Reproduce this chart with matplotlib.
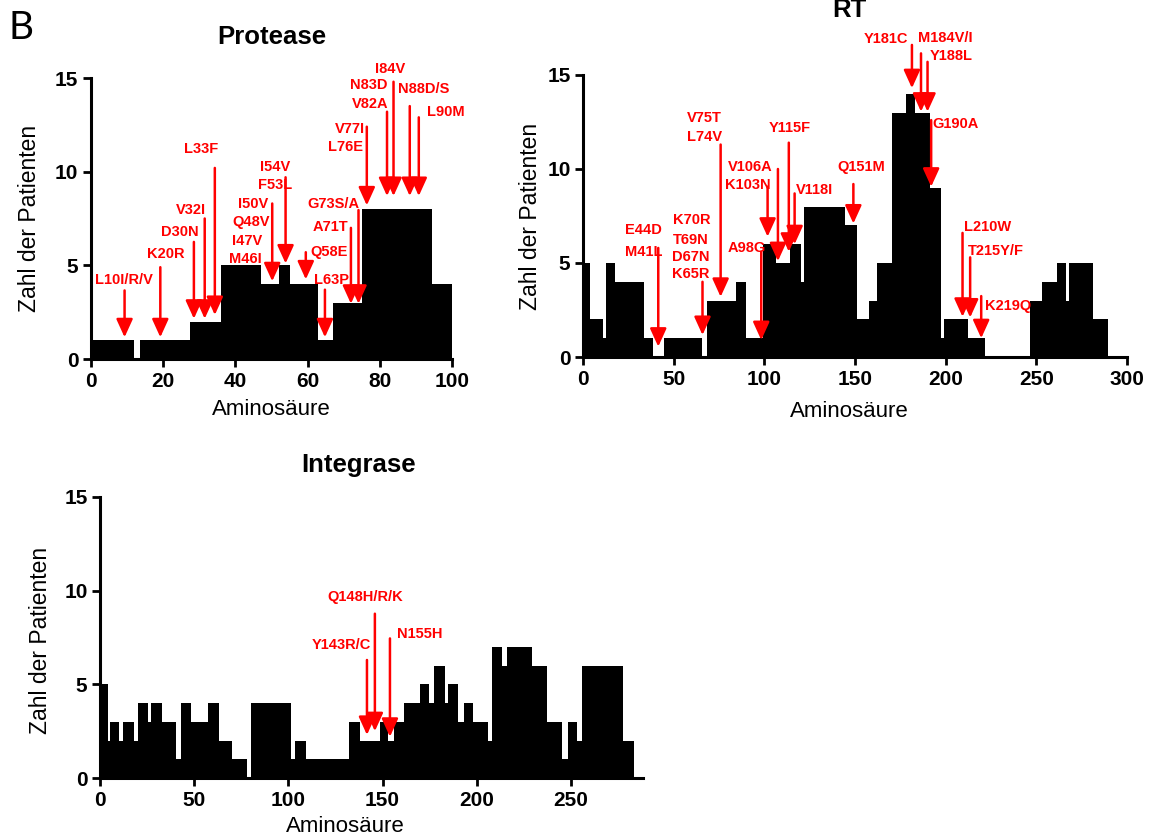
import matplotlib
matplotlib.use("Agg")
import matplotlib.pyplot as plt

plt.rcParams['font.family'] = ['Liberation Sans', 'DejaVu Sans']

# ---- data: step profiles (bin edges along the sequence, patient counts per bin)
pr_edges = [0, 12, 13.5, 27.5, 36, 47, 52, 55, 63, 67, 75, 94.5, 100]
pr_counts = [1, 0, 1, 2, 5, 4, 5, 4, 1, 3, 8, 4]

rt_edges = [0, 4, 11, 12.8, 17.7, 33.6, 38.7, 44.7, 65.7, 68.5, 84.3, 89.8, 99.5,
            106.2, 114.4, 120.4, 121.9, 144.5, 151.3, 157.5, 162.3, 170.4, 178.2,
            183.2, 191.4, 197.3, 199.1, 212.5, 221.6, 246.4, 253.4, 261.4, 266.6,
            268, 281.2, 289.4]
rt_counts = [5, 2, 1, 5, 4, 1, 0, 1, 0, 3, 4, 1, 6, 5, 6, 4, 8, 7, 2, 3, 5, 13,
             14, 13, 9, 1, 2, 1, 0, 3, 4, 5, 3, 5, 2]

in_edges = [0, 4, 5.3, 10.2, 12.2, 18.3, 20.3, 25.4, 27, 33, 40.2, 43.1, 48.2,
            57.3, 63, 70.1, 77.8, 80.3, 101.2, 103.3, 109.1, 132.1, 138.2, 148.4,
            152.8, 156.1, 161.2, 169.7, 174.8, 177.2, 182.9, 184.9, 190, 193, 198,
            205.8, 208.1, 213.4, 216.1, 229.3, 237.3, 245.2, 248.2, 253.2, 255.8,
            277.6, 283.6]
in_counts = [5, 2, 3, 2, 3, 2, 4, 3, 4, 3, 1, 4, 3, 4, 2, 1, 0, 4, 1, 2, 1, 3, 2,
             3, 2, 3, 4, 5, 4, 6, 4, 5, 3, 4, 3, 2, 7, 6, 7, 6, 3, 1, 3, 2, 6, 2]

# ---- resistance mutations: arrows (position, tail, tip) and label texts
pr_arrows = [(9.3, 3.66, 1.16), (19.2, 4.9, 1.16), (28.5, 6.25, 2.15),
             (31.5, 7.5, 2.15), (34.3, 10.2, 2.35), (50.2, 8.3, 4.15),
             (53.9, 9.7, 5.1), (59.5, 5.7, 4.25), (64.8, 3.7, 1.16),
             (72.0, 7.0, 2.95), (74.1, 7.95, 2.95), (76.4, 12.4, 8.2),
             (82.0, 13.2, 8.7), (83.8, 14.8, 8.7), (88.3, 13.5, 8.7),
             (90.8, 12.9, 8.7)]
pr_labels = [("L10I/R/V", 9.2, 4.2, 'center'), ("K20R", 20.6, 5.6, 'center'),
             ("D30N", 29.8, 6.8, 'right'), ("V32I", 32.0, 7.95, 'right'),
             ("L33F", 30.4, 11.2, 'center'), ("M46I", 47.4, 5.35, 'right'),
             ("I47V", 47.4, 6.3, 'right'), ("Q48V", 49.6, 7.3, 'right'),
             ("I50V", 49.2, 8.3, 'right'), ("F53L", 51.0, 9.3, 'center'),
             ("I54V", 50.9, 10.25, 'center'), ("Q58E", 60.7, 5.7, 'left'),
             ("L63P", 61.7, 4.2, 'left'), ("A71T", 71.2, 7.05, 'right'),
             ("G73S/A", 74.5, 8.3, 'right'), ("L76E", 75.4, 11.3, 'right'),
             ("V77I", 75.9, 12.3, 'right'), ("V82A", 82.4, 13.6, 'right'),
             ("N83D", 82.2, 14.6, 'right'), ("I84V", 82.9, 15.5, 'center'),
             ("N88D/S", 92.1, 14.4, 'center'), ("L90M", 93.0, 13.2, 'left')]

rt_arrows = [(41.5, 5.8, 0.55), (65.9, 4.0, 1.17), (75.9, 11.3, 3.2),
             (98.3, 5.6, 0.9), (101.8, 9.06, 6.4), (107.5, 10.0, 5.1),
             (113.5, 11.4, 5.6), (116.7, 8.7, 6.0), (149.1, 9.2, 7.1),
             (181.4, 16.6, 14.3), (186.4, 16.15, 13.05), (190.0, 15.7, 13.05),
             (192.0, 12.6, 9.06), (209.3, 6.6, 2.14), (213.5, 5.3, 2.1),
             (219.6, 3.24, 1.0)]
rt_labels = [("E44D", 33.4, 6.76, 'center'), ("M41L", 33.5, 5.6, 'center'),
             ("K70R", 59.8, 7.3, 'center'), ("T69N", 59.4, 6.25, 'center'),
             ("D67N", 59.4, 5.3, 'center'), ("K65R", 59.4, 4.4, 'center'),
             ("V75T", 66.8, 12.7, 'center'), ("L74V", 66.8, 11.7, 'center'),
             ("A98G", 90.3, 5.8, 'center'), ("K103N", 90.8, 9.15, 'center'),
             ("V106A", 92.1, 10.1, 'center'), ("Y115F", 113.9, 12.2, 'center'),
             ("V118I", 117.4, 8.9, 'left'), ("Q151M", 153.5, 10.1, 'center'),
             ("Y181C", 166.8, 16.9, 'center'), ("M184V/I", 199.8, 16.95, 'center'),
             ("Y188L", 202.8, 16.0, 'center'), ("G190A", 205.7, 12.4, 'center'),
             ("L210W", 223.2, 6.93, 'center'), ("T215Y/F", 227.7, 5.65, 'center'),
             ("K219Q", 234.6, 2.7, 'center')]

in_arrows = [(141.7, 6.3, 2.3), (145.9, 8.77, 2.5), (153.9, 7.45, 2.2)]
in_labels = [("Y143R/C", 128.0, 7.1, 'center'), ("Q148H/R/K", 140.9, 9.65, 'center'),
             ("N155H", 169.5, 7.7, 'center')]

W, H = 1149, 838


def px_axes(left, top, right, bottom):
    return fig.add_axes([left / W, 1 - bottom / H, (right - left) / W, (bottom - top) / H])


def draw_panel(ax, title, edges, counts, arrows, labels, xmax, xticks,
               title_pos, xlabel_pos, ylabel_pos):
    ax.stairs(counts, edges, fill=True, color='black', lw=0)
    ax.set_xlim(0, xmax)
    ax.set_ylim(0, 15)
    ax.set_xticks(xticks)
    ax.set_yticks([0, 5, 10, 15])
    for s in ('top', 'right'):
        ax.spines[s].set_visible(False)
    for s in ('left', 'bottom'):
        ax.spines[s].set_linewidth(2.2)
    ax.tick_params(width=2, length=6, labelsize=15, pad=3)
    for t in ax.get_xticklabels() + ax.get_yticklabels():
        t.set_fontweight('bold')

    for x, tail, tip in arrows:
        ax.annotate("", xy=(x, tip), xytext=(x, tail), annotation_clip=False,
                    arrowprops=dict(arrowstyle='-|>,head_length=1.1,head_width=0.5',
                                    mutation_scale=10, color='#ff0000', lw=1.8,
                                    shrinkA=0, shrinkB=0))
    for text, x, y, ha in labels:
        ax.text(x, y, text, color='#ff0000', fontsize=10.5, fontweight='bold',
                ha=ha, va='center', clip_on=False)

    ax.text(title_pos[0], title_pos[1], title, transform=ax.transAxes,
            ha='center', va='center', fontsize=18.5, fontweight='bold')
    ax.text(xlabel_pos[0], xlabel_pos[1], "Aminosäure", transform=ax.transAxes,
            ha='center', va='center', fontsize=16)
    ax.text(ylabel_pos[0], ylabel_pos[1], "Zahl der Patienten", transform=ax.transAxes,
            ha='center', va='center', fontsize=16.5, rotation=90)


fig = plt.figure(figsize=(W / 100, H / 100), dpi=100)

ax_pr = px_axes(91, 78, 452, 359)
draw_panel(ax_pr, "Protease", pr_edges, pr_counts, pr_arrows, pr_labels,
           100, [0, 20, 40, 60, 80, 100],
           (0.5, 1.146), (0.5, -0.178), (-0.169, 0.5))

ax_rt = px_axes(583, 75, 1127, 357)
draw_panel(ax_rt, "RT", rt_edges, rt_counts, rt_arrows, rt_labels,
           300, [0, 50, 100, 150, 200, 250, 300],
           (0.49, 1.23), (0.49, -0.195), (-0.097, 0.5))

ax_in = px_axes(100, 497, 100 + 288 * 1.884, 778)
draw_panel(ax_in, "Integrase", in_edges, in_counts, in_arrows, in_labels,
           288, [0, 50, 100, 150, 200, 250],
           (0.477, 1.114), (0.452, -0.171), (-0.11, 0.49))

fig.text(8 / W, 1 - 28 / H, "B", fontsize=28, family='Lato', ha='left', va='center')

fig.savefig("out.png", dpi=100)
